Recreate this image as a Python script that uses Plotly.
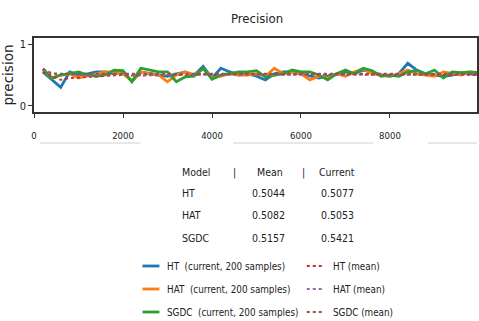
import plotly.graph_objects as go

# ---------------- data ----------------
samples = list(range(200, 10001, 200))  # 50 points

ht_current = [0.55, 0.42, 0.30, 0.55, 0.50, 0.52, 0.55, 0.55, 0.52, 0.55,
              0.40, 0.55, 0.52, 0.50, 0.48, 0.52, 0.55, 0.50, 0.64, 0.45,
              0.61, 0.55, 0.50, 0.52, 0.48, 0.42, 0.52, 0.55, 0.55, 0.52,
              0.48, 0.45, 0.48, 0.52, 0.55, 0.52, 0.58, 0.55, 0.50, 0.48,
              0.52, 0.69, 0.58, 0.52, 0.50, 0.48, 0.50, 0.53, 0.52, 0.51]
hat_current = [0.58, 0.45, 0.50, 0.52, 0.45, 0.48, 0.52, 0.55, 0.55, 0.52,
               0.40, 0.55, 0.52, 0.50, 0.39, 0.50, 0.55, 0.50, 0.60, 0.45,
               0.48, 0.52, 0.50, 0.50, 0.52, 0.48, 0.61, 0.52, 0.55, 0.52,
               0.42, 0.48, 0.45, 0.52, 0.48, 0.55, 0.60, 0.52, 0.50, 0.48,
               0.52, 0.58, 0.52, 0.50, 0.48, 0.55, 0.52, 0.50, 0.55, 0.51]
sgdc_current = [0.60, 0.45, 0.50, 0.52, 0.55, 0.50, 0.48, 0.50, 0.58, 0.57,
                0.39, 0.61, 0.58, 0.55, 0.55, 0.39, 0.47, 0.48, 0.61, 0.43,
                0.50, 0.52, 0.55, 0.55, 0.57, 0.47, 0.50, 0.52, 0.58, 0.55,
                0.55, 0.50, 0.42, 0.52, 0.58, 0.52, 0.61, 0.57, 0.48, 0.50,
                0.48, 0.55, 0.57, 0.52, 0.58, 0.45, 0.55, 0.54, 0.55, 0.54]

ht_mean = [0.55, 0.49, 0.42, 0.45, 0.46, 0.47, 0.48, 0.49, 0.49, 0.50,
           0.49, 0.49, 0.50, 0.50, 0.50, 0.50, 0.50, 0.50, 0.51, 0.50,
           0.51, 0.51, 0.51, 0.51, 0.50, 0.50, 0.50, 0.50, 0.50, 0.50,
           0.50, 0.50, 0.50, 0.50, 0.50, 0.50, 0.50, 0.50, 0.50, 0.50,
           0.50, 0.51, 0.51, 0.51, 0.50, 0.50, 0.50, 0.50, 0.50, 0.50]
hat_mean = [0.58, 0.52, 0.51, 0.51, 0.50, 0.49, 0.50, 0.50, 0.51, 0.51,
            0.50, 0.50, 0.50, 0.50, 0.50, 0.50, 0.50, 0.50, 0.51, 0.50,
            0.50, 0.50, 0.50, 0.50, 0.50, 0.50, 0.51, 0.51, 0.51, 0.51,
            0.51, 0.51, 0.50, 0.50, 0.50, 0.51, 0.51, 0.51, 0.51, 0.51,
            0.51, 0.51, 0.51, 0.51, 0.51, 0.51, 0.51, 0.51, 0.51, 0.51]
sgdc_mean = [0.60, 0.53, 0.52, 0.52, 0.52, 0.52, 0.51, 0.51, 0.52, 0.52,
             0.51, 0.51, 0.52, 0.52, 0.52, 0.51, 0.51, 0.51, 0.51, 0.51,
             0.51, 0.51, 0.51, 0.51, 0.51, 0.51, 0.51, 0.51, 0.51, 0.51,
             0.51, 0.51, 0.51, 0.51, 0.51, 0.51, 0.52, 0.52, 0.52, 0.52,
             0.51, 0.52, 0.52, 0.52, 0.52, 0.52, 0.52, 0.52, 0.52, 0.52]

models = ["HT", "HAT", "SGDC"]
mean_values = ["0.5044", "0.5082", "0.5157"]
current_values = ["0.5077", "0.5053", "0.5421"]
x_ticks = [0, 2000, 4000, 6000, 8000]
y_ticks = [0, 1]

cur_colors = ["#1f77b4", "#ff7f0e", "#2ca02c"]
mean_colors = ["#d62728", "#9467bd", "#8c564b"]

FONT = "DejaVu Sans Condensed, Liberation Sans Narrow, DejaVu Sans, sans-serif"

# ---------------- layout helpers (pixel -> paper) ----------------
W, H = 479, 321
L, R, T, B = 34, 0, 38, 209
PW = W - L - R
PH = H - T - B


def xp(px):
    return (px - L) / PW


def yp(py):
    return (H - B - py) / PH


fig = go.Figure()
currents = [ht_current, hat_current, sgdc_current]
means = [ht_mean, hat_mean, sgdc_mean]
for name, ys, c in zip(models, currents, cur_colors):
    fig.add_trace(go.Scatter(x=samples, y=ys, mode="lines", name=f"{name}  (current, 200 samples)",
                             line=dict(color=c, width=2.8), showlegend=False))
for name, ys, c in zip(models, means, mean_colors):
    fig.add_trace(go.Scatter(x=samples, y=ys, mode="lines", name=f"{name} (mean)",
                             line=dict(color=c, width=1.8, dash="dot"), showlegend=False))

annotations = []
shapes = []

# table
tfont = dict(family=FONT, size=10.5, color="#222222")
annotations.append(dict(text="Model", x=xp(181), y=yp(172), xanchor="left"))
annotations.append(dict(text="|", x=xp(235), y=yp(172), xanchor="center"))
annotations.append(dict(text="Mean", x=xp(271), y=yp(172), xanchor="center"))
annotations.append(dict(text="|", x=xp(305), y=yp(172), xanchor="center"))
annotations.append(dict(text="Current", x=xp(338), y=yp(172), xanchor="center"))
row_y = [193, 215, 238]
for m, mv, cv, ry in zip(models, mean_values, current_values, row_y):
    annotations.append(dict(text=m, x=xp(181), y=yp(ry), xanchor="left"))
    annotations.append(dict(text=mv, x=xp(270), y=yp(ry), xanchor="center"))
    annotations.append(dict(text=cv, x=xp(339), y=yp(ry), xanchor="center"))
for a in annotations:
    a["font"] = tfont

# legend
lfont = dict(family=FONT, size=9.8, color="#222222")
leg_y = [266, 289, 312]
for m, c, mc, ly in zip(models, cur_colors, mean_colors, leg_y):
    shapes.append(dict(type="line", xref="paper", yref="paper", x0=xp(143), x1=xp(160),
                       y0=yp(ly), y1=yp(ly), line=dict(color=c, width=2.8)))
    annotations.append(dict(text=f"{m}\u00a0\u00a0(current, 200 samples)", x=xp(166), y=yp(ly),
                            xanchor="left", font=lfont))
    shapes.append(dict(type="line", xref="paper", yref="paper", x0=xp(308), x1=xp(324),
                       y0=yp(ly), y1=yp(ly), line=dict(color=mc, width=1.8, dash="dot")))
    annotations.append(dict(text=f"{m} (mean)", x=xp(332), y=yp(ly), xanchor="left", font=lfont))

for a in annotations:
    a.update(xref="paper", yref="paper", yanchor="middle", showarrow=False)

# faint separator lines under tick labels
for x0, x1 in [(40, 141), (234, 375), (430, 479)]:
    shapes.append(dict(type="line", xref="paper", yref="paper", x0=xp(x0), x1=xp(x1),
                       y0=yp(143), y1=yp(143), line=dict(color="#d0d0d0", width=1)))

fig.update_layout(
    width=W, height=H,
    margin=dict(l=L, r=R, t=T, b=B),
    paper_bgcolor="white", plot_bgcolor="white",
    title=dict(text="Precision", x=257 / W, xanchor="center", y=1 - 18 / H, yanchor="middle",
               font=dict(family=FONT, size=13, color="#222222")),
    xaxis=dict(range=[0, 10000 * PW / (481 - L)], tickvals=x_ticks, showgrid=False, zeroline=False,
               showline=True, mirror=True, linecolor="#333333", linewidth=1.5,
               ticks="outside", ticklen=4, tickcolor="#333333", ticklabelstandoff=10,
               tickfont=dict(family=FONT, size=9.5, color="#222222")),
    yaxis=dict(range=[-0.1, 1.1], tickvals=y_ticks, showgrid=False, zeroline=False,
               showline=True, mirror=True, linecolor="#333333", linewidth=1.5,
               ticks="outside", ticklen=4, tickcolor="#333333",
               tickfont=dict(family=FONT, size=11, color="#222222"),
               title=dict(text="precision", standoff=3,
                          font=dict(family="DejaVu Sans, sans-serif", size=13.5, color="#222222"))),
    annotations=annotations,
    shapes=shapes,
)

fig.write_html("out.html", config={"displayModeBar": False},
               post_script="document.body.style.margin='0';document.body.style.overflow='hidden';")
